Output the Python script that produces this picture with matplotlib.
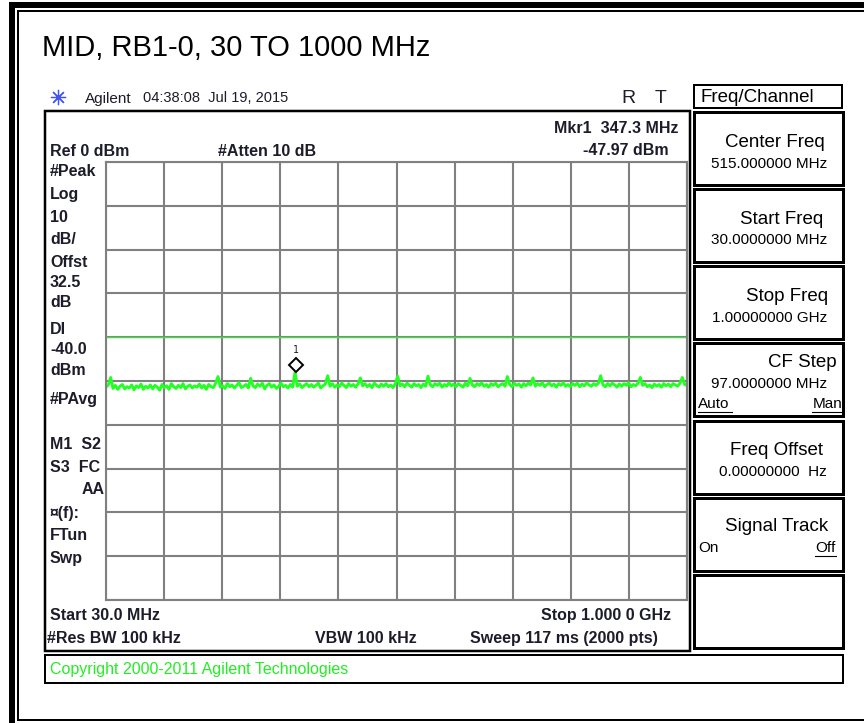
#Spectrum analyzer screen capture, radiated emissions sweep
import numpy as np
import matplotlib
matplotlib.use('Agg')
import matplotlib.pyplot as plt
from matplotlib.patches import Rectangle
import matplotlib.transforms as mtrans

title_str = "MID, RB1-0, 30 TO 1000 MHz"
start_mhz = 30.0
stop_mhz = 1000.0
ref_dbm = 0.0
db_div = 10
dl_dbm = -40.0
mkr_freq = 347.3
mkr_level = -47.97

# trace levels (dBm), left to right
levels = [
	-51.4, -50.9, -49.2, -51.7, -51.0, -51.9, -51.2, -50.8, -51.8, -51.3,
	-51.6, -50.9, -52.0, -51.1, -51.5, -50.7, -51.9, -51.2, -51.6, -50.9,
	-51.8, -51.0, -51.4, -52.1, -50.8, -51.5, -51.1, -51.9, -50.6, -51.3,
	-51.7, -51.0, -51.5, -50.6, -51.8, -51.2, -50.9, -51.6, -51.1, -51.4,
	-50.7, -51.6, -51.0, -51.9, -50.8, -51.3, -51.5, -50.5, -49.0, -51.4,
	-51.1, -51.7, -50.6, -51.3, -50.9, -51.6, -51.0, -50.4, -51.5, -51.2,
	-50.8, -51.6, -49.4, -51.1, -51.5, -50.7, -51.2, -50.5, -51.8, -51.0,
	-50.6, -51.4, -50.9, -51.7, -51.2, -50.5, -51.3, -51.0, -51.6, -50.8,
	-51.4, -47.97, -51.2, -50.7, -51.5, -51.0, -50.6, -51.3, -50.8, -51.4,
	-51.0, -50.5, -51.6, -51.1, -50.7, -48.8, -51.2, -50.6, -51.4, -50.9,
	-51.3, -50.5, -51.0, -51.5, -50.6, -51.2, -50.8, -51.4, -50.7, -49.3,
	-51.1, -50.6, -51.3, -50.8, -51.5, -50.5, -51.0, -51.4, -50.7, -51.2,
	-50.6, -51.3, -50.9, -51.5, -50.6, -48.9, -51.1, -50.7, -51.3, -50.5,
	-51.0, -51.4, -50.6, -51.1, -50.8, -51.5, -50.7, -51.2, -48.9, -50.9,
	-51.3, -50.6, -51.0, -50.5, -51.4, -50.8, -51.2, -50.4, -51.1, -50.7,
	-51.3, -50.6, -51.0, -51.4, -50.5, -51.1, -49.4, -50.9, -51.3, -50.6,
	-51.0, -50.4, -51.2, -50.8, -51.4, -50.6, -51.0, -50.5, -51.3, -50.9,
	-50.6, -51.2, -49.0, -50.8, -51.3, -50.5, -51.0, -50.7, -51.4, -50.6,
	-51.1, -50.5, -50.9, -49.3, -51.2, -50.6, -51.0, -50.4, -51.3, -50.8,
	-50.5, -51.1, -50.7, -51.4, -50.6, -51.0, -50.4, -51.2, -50.8, -51.3,
	-50.6, -51.0, -50.5, -51.3, -50.7, -51.1, -50.4, -50.9, -51.2, -50.6,
	-51.0, -50.5, -48.8, -50.9, -51.3, -50.6, -51.1, -50.5, -50.9, -51.4,
	-50.7, -51.2, -50.6, -51.0, -50.4, -51.3, -50.8, -51.1, -50.5, -49.2,
	-51.0, -50.6, -51.3, -50.9, -51.5, -50.7, -51.2, -50.8, -51.4, -50.6,
	-51.1, -50.7, -51.3, -50.6, -50.9, -51.2, -50.5, -49.2, -50.8, -51.0,
]

left_labels = ["#Peak", "Log", "10", "dB/", "Offst", "32.5", "dB", "Dl", "-40.0", "dBm",
	"#PAvg", "M1  S2", "S3  FC", "", "\u00a4(f):", "FTun", "Swp"]
softkeys = ["Center Freq", "Start Freq", "Stop Freq", "CF Step", "Freq Offset", "Signal Track", ""]
softvals = ["515.000000 MHz", "30.0000000 MHz", "1.00000000 GHz", "97.0000000 MHz", "0.00000000  Hz", "", ""]

W = 864
H = 723
FONT = 'Liberation Sans'
TXT = '#1c1c2a'
F = 11.5

freqs = np.linspace(start_mhz, stop_mhz, len(levels))

fig = plt.figure(figsize=(W/100, H/100), dpi=100)
bg = fig.add_axes([0, 0, 1, 1])
bg.set_xlim(0, W)
bg.set_ylim(H, 0)
bg.axis('off')

def txt(x, y, s, size=F, weight='bold', ha='left', color=TXT):
	# +1.5 px: va='center' counts the descender, caps sit a little high otherwise
	bg.text(x, y+1.5, s, fontsize=size, fontweight=weight, ha=ha, va='center', color=color, family=FONT)

def box(x0, y0, x1, y1, lw=2):
	bg.add_patch(Rectangle((x0, y0), x1-x0, y1-y0, fill=False, ec='black', lw=lw*0.72))

# outer frame
bg.plot([12, 12], [2, H], color='black', lw=6*0.72, solid_capstyle='butt')
bg.plot([9, W], [5, 5], color='black', lw=6*0.72, solid_capstyle='butt')
bg.plot([18, 18], [11, 720], color='black', lw=2*0.72)
bg.plot([18, W], [11, 11], color='black', lw=2*0.72)
bg.plot([18, W], [720, 720], color='black', lw=2*0.72)

txt(42, 47, title_str, size=21, weight='normal', color='black')

# header line
bg.plot(58, 97, marker=(8, 2, 0), ms=11, mec='#4455ee', mew=0.9)
txt(85, 97, "Agilent", size=11, weight='normal')
txt(143, 97, "04:38:08  Jul 19, 2015", size=10.5, weight='normal')
txt(628, 97, "R", size=14, weight='normal', ha='center')
txt(661, 97, "T", size=14, weight='normal', ha='center')

# main display box
box(45, 111, 690, 651, lw=2.5)
box(45, 655, 843, 683, lw=2)
txt(50, 668, "Copyright 2000-2011 Agilent Technologies", size=11.5, weight='normal', color='#22ee22')

txt(50, 150, "Ref 0 dBm")
txt(218, 150, "#Atten 10 dB")
txt(678, 127, "Mkr1  347.3 MHz", ha='right')
txt(669, 149, "-%.2f dBm" % abs(mkr_level), ha='right')

left_y = [170, 193, 216, 238, 261, 281, 301, 328, 348, 369, 398, 443, 466, 488, 512, 534, 557]
for lab, yy in zip(left_labels, left_y):
	txt(50, yy, lab)
txt(82, 488, "AA")

txt(50, 614, "Start %.1f MHz" % start_mhz)
txt(671, 614, "Stop 1.000 0 GHz", ha='right')
txt(47, 637, "#Res BW 100 kHz")
txt(315, 637, "VBW 100 kHz")
txt(470, 637, "Sweep 117 ms (2000 pts)")

# softkey panel
box(694, 85, 842, 108, lw=2)
txt(701, 96, "Freq/Channel", size=13.5, weight='normal', color='black')
key_top = [112, 189, 266, 343, 421, 498, 575]
key_right = [825, 823, 828, 837, 823, 828, 828]
lab_dy = [29, 29, 29, 18, 28, 27, 29]
val_dy = [50, 50, 50, 40, 49, 50, 50]
for i in range(len(softkeys)):
	y0 = key_top[i]
	box(694, y0, 843, y0+73, lw=3)
	if softkeys[i]:
		txt(key_right[i], y0+lab_dy[i], softkeys[i], size=13.5, weight='normal', ha='right', color='black')
	if softvals[i]:
		txt(827, y0+val_dy[i], softvals[i], size=11, weight='normal', ha='right', color='black')
txt(698, 403, "Auto", size=11, weight='normal', color='black')
txt(842, 403, "Man", size=11, weight='normal', ha='right', color='black')
txt(698, 547, "On", size=11, weight='normal', color='black')
txt(836, 547, "Off", size=11, weight='normal', ha='right', color='black')
bg.plot([698, 732], [412, 412], color='black', lw=0.8)
bg.plot([812, 842], [412, 412], color='black', lw=0.8)
bg.plot([815, 836], [556, 556], color='black', lw=0.8)

# graticule
ax = fig.add_axes([106/W, 1-600/H, 581/W, 438/H])
ax.set_zorder(2)
ax.plot(freqs, levels, color='#22ff22', lw=2.1)
ax.axhline(dl_dbm, color='#44dd44', lw=1)
ax.set_xlim(start_mhz, stop_mhz)
ax.set_ylim(ref_dbm-10*db_div, ref_dbm)
ax.set_xticks(np.linspace(start_mhz, stop_mhz, 11))
ax.set_yticks(np.arange(ref_dbm-10*db_div, ref_dbm+1, db_div))
ax.grid(True, color='#808080', lw=1.5)
ax.tick_params(length=0, labelbottom=False, labelleft=False)
for sp in ax.spines.values():
	sp.set_color('#808080')
	sp.set_linewidth(1.5)

# marker 1
moff = mtrans.offset_copy(ax.transData, fig=fig, x=0, y=7, units='dots')
ax.plot(mkr_freq, mkr_level, 'D', ms=7, mfc='white', mec='black', mew=1.4, transform=moff, clip_on=False)
loff = mtrans.offset_copy(ax.transData, fig=fig, x=0, y=22, units='dots')
ax.text(mkr_freq, mkr_level, "1", fontsize=7, ha='center', va='center', transform=loff, family='DejaVu Sans Mono', color=TXT)

plt.savefig('out.png', dpi=100)
